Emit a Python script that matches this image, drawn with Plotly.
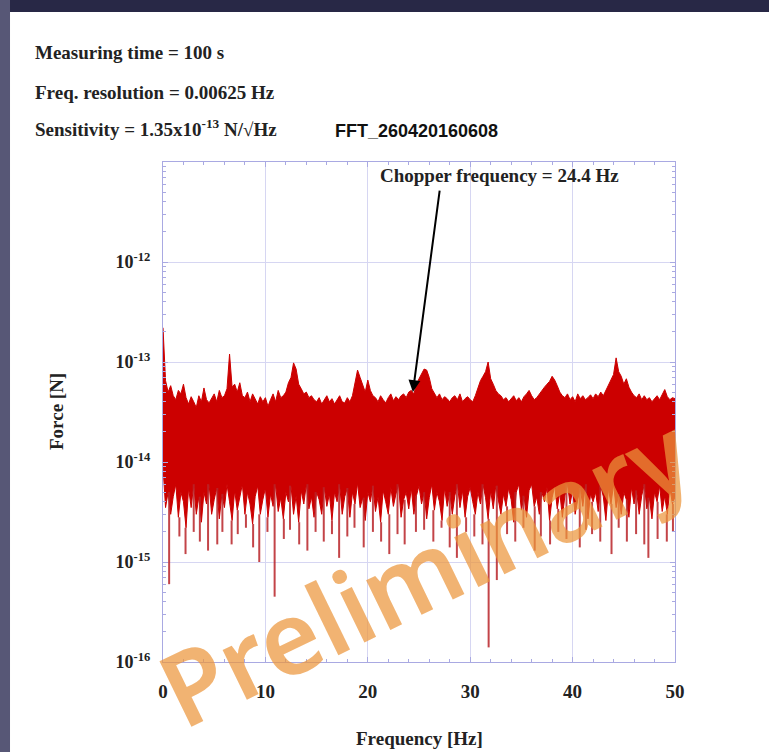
import math
import plotly.graph_objects as go

# ---------------- data ----------------
freq_step = 0.25
n_pts = 201
freq_hz = [i * freq_step for i in range(n_pts)]

# upper envelope of the force spectrum (units of 1e-14 N), every 0.25 Hz
hi_e14 = [
    22, 6.5, 5.0, 5.8, 4.6, 4.2, 5.2, 4.8, 6.0, 4.4, 3.8, 4.5, 4.0, 3.5, 4.6, 4.0,
    5.5, 4.2, 3.9, 4.3, 4.8, 4.0, 5.2, 4.4, 4.6, 5.4, 12.0, 5.6, 6.0, 5.0, 6.2, 4.6,
    4.4, 5.0, 4.0, 4.8, 4.2, 3.8, 4.5, 4.0, 4.4, 3.6, 4.2, 4.8, 4.0, 5.2, 4.4, 4.6,
    5.0, 6.2, 7.0, 9.8, 8.5, 6.0, 5.4, 4.8, 5.0, 4.4, 4.6, 4.2, 4.0, 4.4, 3.8, 4.2,
    4.6, 4.0, 4.3, 3.8, 4.2, 4.6, 4.0, 3.9, 4.4, 4.0, 4.6, 6.5, 8.3, 7.0, 6.0, 5.0,
    6.6, 5.2, 4.6, 4.4, 4.0, 4.6, 4.2, 3.9, 4.4, 4.8, 4.1, 4.5, 4.2, 4.6, 4.8, 4.4,
    5.0, 5.2, 4.8, 6.0, 6.8, 7.5, 8.5, 8.3, 7.0, 5.4, 4.8, 4.4, 4.8, 4.2, 4.5, 4.3,
    4.0, 4.4, 4.6, 4.2, 4.8, 4.0, 4.3, 4.5, 4.2, 4.0, 4.6, 5.6, 6.5, 7.2, 8.0, 10.0,
    6.8, 6.0, 5.2, 4.8, 4.6, 4.2, 4.4, 4.0, 4.3, 4.6, 4.1, 4.4, 4.0, 4.5, 4.8, 5.2,
    4.6, 4.2, 4.4, 4.8, 5.2, 5.6, 6.0, 6.4, 7.2, 6.6, 5.8, 5.0, 4.6, 4.4, 4.8, 4.2,
    4.5, 4.0, 4.8, 4.3, 4.6, 4.2, 4.4, 4.7, 4.3, 4.8, 4.5, 5.0, 4.6, 5.2, 5.8, 6.4,
    7.5, 11.0, 8.0, 7.2, 6.0, 6.8, 5.6, 5.0, 4.6, 4.4, 4.8, 4.2, 4.6, 4.2, 4.4, 4.0,
    4.3, 4.6, 4.2, 4.8, 5.3, 4.5, 4.2, 4.4, 4.3,
]

# lower edge of the dense band (units of 1e-14 N), every 0.25 Hz
lo_e14 = [
    0.9, 0.35, 0.5, 0.3, 0.45, 0.6, 0.28, 0.5, 0.4, 0.22, 0.55, 0.35, 0.6, 0.3, 0.45, 0.25,
    0.5, 0.38, 0.6, 0.3, 0.42, 0.55, 0.27, 0.48, 0.35, 0.6, 0.4, 0.26, 0.52, 0.33, 0.46, 0.6,
    0.3, 0.5, 0.38, 0.24, 0.45, 0.58, 0.3, 0.42, 0.55, 0.28, 0.48, 0.36, 0.6, 0.32, 0.44, 0.27,
    0.5, 0.4, 0.58, 0.3, 0.46, 0.25, 0.52, 0.38, 0.6, 0.34, 0.45, 0.28, 0.5, 0.42, 0.3, 0.56,
    0.36, 0.48, 0.26, 0.5, 0.4, 0.6, 0.3, 0.45, 0.55, 0.28, 0.5, 0.38, 0.62, 0.35, 0.44, 0.26,
    0.5, 0.4, 0.58, 0.32, 0.45, 0.25, 0.52, 0.4, 0.3, 0.56, 0.36, 0.48, 0.6, 0.28, 0.42, 0.5,
    0.34, 0.55, 0.3, 0.46, 0.58, 0.38, 0.5, 0.27, 0.44, 0.6, 0.33, 0.5, 0.4, 0.26, 0.55, 0.36,
    0.5, 0.3, 0.46, 0.6, 0.35, 0.52, 0.28, 0.45, 0.56, 0.4, 0.3, 0.5, 0.38, 0.6, 0.44, 0.27,
    0.52, 0.34, 0.58, 0.4, 0.3, 0.48, 0.36, 0.55, 0.42, 0.25, 0.5, 0.6, 0.33, 0.46, 0.28, 0.52,
    0.6, 0.36, 0.45, 0.3, 0.5, 0.4, 0.56, 0.26, 0.44, 0.58, 0.34, 0.5, 0.28, 0.46, 0.6, 0.38,
    0.52, 0.3, 0.42, 0.55, 0.36, 0.6, 0.27, 0.48, 0.4, 0.5, 0.32, 0.58, 0.45, 0.26, 0.54, 0.38,
    0.6, 0.35, 0.48, 0.3, 0.5, 0.42, 0.28, 0.56, 0.38, 0.52, 0.3, 0.46, 0.6, 0.34, 0.44, 0.27,
    0.5, 0.4, 0.58, 0.32, 0.46, 0.3, 0.55, 0.38, 0.45,
]

# deep downward spikes: frequency (Hz) and minimum (units of 1e-14 N)
spike_freq = [
    0.6, 1.6, 2.2, 3.0, 3.6, 4.4, 5.3, 5.8, 6.7, 7.3, 8.1, 8.8, 9.4, 10.2, 10.9, 11.8,
    12.4, 13.3, 14.1, 14.9, 15.7, 16.5, 17.2, 18.0, 18.7, 19.6, 20.5, 21.3, 22.1, 22.9,
    23.6, 24.7, 25.5, 26.4, 27.2, 28.0, 28.7, 29.6, 30.4, 31.2, 31.8, 32.6, 33.6, 34.4,
    35.2, 36.3, 36.9, 37.8, 38.6, 39.4, 40.7, 41.3, 41.9, 42.7, 43.8, 44.5, 45.3, 46.2,
    47.0, 47.4, 48.3, 49.2, 49.8,
]
spike_min_e14 = [
    0.06, 0.18, 0.12, 0.2, 0.16, 0.13, 0.15, 0.2, 0.15, 0.19, 0.22, 0.14, 0.1, 0.2, 0.045, 0.17,
    0.21, 0.15, 0.13, 0.2, 0.16, 0.19, 0.11, 0.18, 0.22, 0.14, 0.2, 0.16, 0.12, 0.19,
    0.15, 0.2, 0.21, 0.16, 0.22, 0.14, 0.11, 0.2, 0.18, 0.15, 0.014, 0.066, 0.19, 0.16,
    0.22, 0.13, 0.18, 0.15, 0.2, 0.17, 0.14, 0.21, 0.19, 0.16, 0.12, 0.22, 0.16, 0.19,
    0.15, 0.11, 0.17, 0.16, 0.2,
]

chopper_freq = 24.4
chopper_level = 5.0e-14

x_ticks = [0, 10, 20, 30, 40, 50]
y_tick_exps = [-16, -15, -14, -13, -12]

# ---------------- figure ----------------
unit = 1e-14
hi = [v * unit for v in hi_e14]
lo = [v * unit for v in lo_e14]

fig = go.Figure()

red = "#cc0000"
fig.add_trace(go.Scatter(
    x=freq_hz + freq_hz[::-1],
    y=hi + lo[::-1],
    mode="lines",
    fill="toself",
    fillcolor=red,
    line=dict(color=red, width=1),
    hoverinfo="skip",
    showlegend=False,
))

# downward spikes
sx, sy = [], []
for f, m in zip(spike_freq, spike_min_e14):
    idx = int(round(f / freq_step))
    sx += [f, f, None]
    sy += [lo_e14[idx] * unit, m * unit, None]
fig.add_trace(go.Scatter(
    x=sx, y=sy, mode="lines",
    line=dict(color="rgba(185,35,40,0.85)", width=2),
    hoverinfo="skip", showlegend=False,
))

serif = "Liberation Serif"
txt_col = "#222222"
axis_col = "#a9a9e2"
grid_col = "#d6d6f2"

minor_y = [m * 10.0 ** e for e in range(-16, -11) for m in range(2, 10)]

fig.update_layout(
    width=769, height=752,
    margin=dict(l=163, r=94, t=162, b=90),
    paper_bgcolor="white",
    plot_bgcolor="white",
    showlegend=False,
    xaxis=dict(
        range=[0, 50], tickvals=x_ticks, ticktext=[str(t) for t in x_ticks],
        showgrid=True, gridcolor=grid_col, gridwidth=1,
        showline=True, linecolor=axis_col, linewidth=1, mirror="ticks",
        ticks="inside", ticklen=5, tickcolor=axis_col,
        minor=dict(dtick=2, ticks="inside", ticklen=3, tickcolor=axis_col, showgrid=False),
        tickfont=dict(family=serif, size=19, color=txt_col, weight="bold"),
        ticklabelstandoff=12,
        zeroline=False, automargin=False,
    ),
    yaxis=dict(
        type="log", range=[-16, -11],
        tickvals=[10.0 ** e for e in y_tick_exps],
        ticktext=["10<sup>%d</sup>" % e for e in y_tick_exps],
        showgrid=True, gridcolor=grid_col, gridwidth=1,
        showline=True, linecolor=axis_col, linewidth=1, mirror="ticks",
        ticks="inside", ticklen=5, tickcolor=axis_col,
        minor=dict(tickvals=minor_y, ticks="inside", ticklen=3, tickcolor=axis_col, showgrid=False),
        tickfont=dict(family=serif, size=18, color=txt_col, weight="bold"),
        ticklabelstandoff=8,
        zeroline=False, automargin=False,
    ),
)

# dark slide border (top and left)
fig.add_shape(type="rect", xref="paper", yref="paper", x0=-0.33, x1=1.25, y0=1.300, y1=1.34,
              fillcolor="#282846", line=dict(width=0), layer="below")
fig.add_shape(type="rect", xref="paper", yref="paper", x0=-0.33, x1=-0.2988, y0=-0.2, y1=1.34,
              fillcolor="#575776", line=dict(width=0), layer="below")

hdr_font = dict(family=serif, size=19, color=txt_col, weight="bold")
header_lines = [
    ("Measuring time = 100 s", 1.220),
    ("Freq. resolution = 0.00625 Hz", 1.140),
    ("Sensitivity = 1.35x10<sup>-13</sup> N/√Hz", 1.068),
]
for text, yp in header_lines:
    fig.add_annotation(text=text, xref="paper", yref="paper", x=-0.254, y=yp,
                       xanchor="left", yanchor="middle", showarrow=False, font=hdr_font)

fig.add_annotation(text="FFT_260420160608", xref="paper", yref="paper", x=0.332, y=1.062,
                   xanchor="left", yanchor="middle", showarrow=False,
                   font=dict(family="Liberation Sans", size=18, color="#111111", weight="bold"))

fig.add_annotation(text="Chopper frequency = 24.4 Hz", xref="paper", yref="paper",
                   x=0.658, y=0.974, xanchor="center", yanchor="middle", showarrow=False,
                   font=hdr_font)

fig.add_annotation(x=chopper_freq, y=math.log10(chopper_level), xref="x", yref="y",
                   ax=27, ay=-203, axref="pixel", ayref="pixel",
                   text="", showarrow=True, arrowhead=2, arrowsize=1.2, arrowwidth=2,
                   arrowcolor="#000000")

fig.add_annotation(text="Frequency [Hz]", xref="paper", yref="paper", x=0.5, y=-0.152,
                   xanchor="center", yanchor="middle", showarrow=False, font=hdr_font)
fig.add_annotation(text="Force [N]", xref="paper", yref="paper", x=-0.209, y=0.502,
                   xanchor="center", yanchor="middle", textangle=-90, showarrow=False,
                   font=hdr_font)

# watermark
fig.add_annotation(text="Preliminary", xref="paper", yref="paper", x=0.51, y=0.185,
                   xanchor="center", yanchor="middle", textangle=-26, showarrow=False,
                   font=dict(family="Noto Sans", size=102, color="rgba(236,150,60,0.72)",
                             weight=600))

fig.write_html("out.html")
